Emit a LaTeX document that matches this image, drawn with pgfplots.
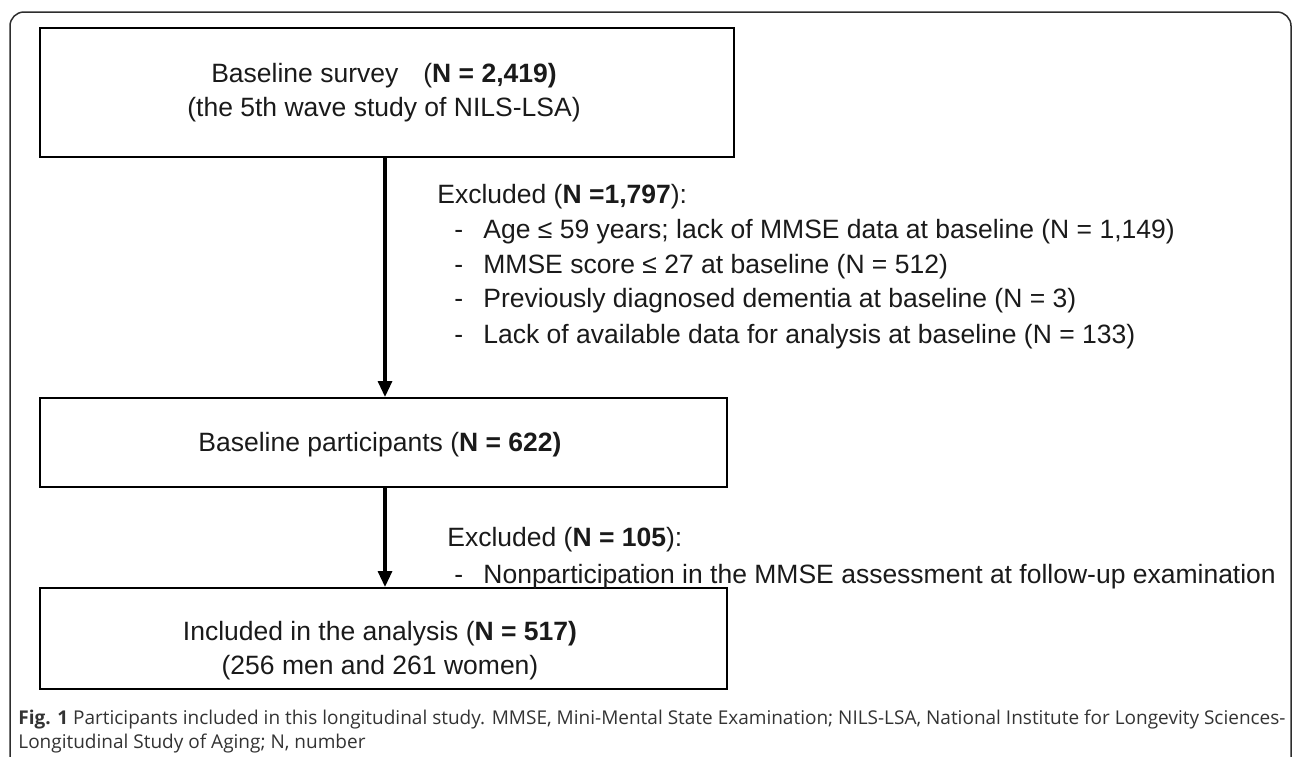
\documentclass[border=0pt]{standalone}
\usepackage{pgfplots}
\pgfplotsset{compat=1.18}
\usepackage{fontspec}
\setmainfont{Liberation Sans}
\newfontfamily\capfont{Open Sans}
\usetikzlibrary{arrows.meta}
\definecolor{frame}{HTML}{2E2E2E}
\definecolor{txt}{HTML}{1A1A1A}
\definecolor{captxt}{HTML}{333333}
\begin{document}
\begin{tikzpicture}
\begin{axis}[scale only axis, width=646.5pt, height=378pt,
  xmin=0, xmax=1293, ymin=0, ymax=756, y dir=reverse, hide axis, clip=false]
% outer frame
\addplot[draw=frame, line width=0.75pt, rounded corners=7pt] coordinates {(10,800) (10,12) (1291,12) (1291,800)};
% boxes
\addplot[black, line width=1.25pt, line cap=rect] coordinates {(40,28) (734,28) (734,157) (40,157) (40,28)};
\addplot[black, line width=1.25pt, line cap=rect] coordinates {(40,398) (727,398) (727,487) (40,487) (40,398)};
\addplot[black, line width=1.25pt, line cap=rect] coordinates {(40,588) (727,588) (727,689) (40,689) (40,588)};
% arrows
\addplot[black, line width=1.6pt, -{Triangle[width=7pt,length=8pt]}] coordinates {(385,157) (385,397)};
\addplot[black, line width=1.6pt, -{Triangle[width=7pt,length=8pt]}] coordinates {(385,487) (385,587)};
% box texts
\begin{scope}[every node/.style={font=\fontsize{13.25}{16}\selectfont, text=txt, inner sep=0pt}]
\node[anchor=base] at (axis cs:384,82) {Baseline survey\hspace{12.5pt}(\textbf{N = 2,419)}};
\node[anchor=base] at (axis cs:384,116) {(the 5th wave study of NILS-LSA)};
\node[anchor=base] at (axis cs:380,451) {Baseline participants (\textbf{N = 622)}};
\node[anchor=base] at (axis cs:380,640) {Included in the analysis (\textbf{N = 517)}};
\node[anchor=base] at (axis cs:380,674) {(256 men and 261 women)};
% excluded 1
\node[anchor=base west] at (axis cs:437,203) {Excluded (\textbf{N =1,797}):};
\node[anchor=base west] at (axis cs:454,238) {-};
\node[anchor=base west] at (axis cs:483,238) {Age ≤ 59 years; lack of MMSE data at baseline (N = 1,149)};
\node[anchor=base west] at (axis cs:454,273) {-};
\node[anchor=base west] at (axis cs:483,273) {MMSE score ≤ 27 at baseline (N = 512)};
\node[anchor=base west] at (axis cs:454,307) {-};
\node[anchor=base west] at (axis cs:483,307) {Previously diagnosed dementia at baseline (N = 3)};
\node[anchor=base west] at (axis cs:454,343) {-};
\node[anchor=base west] at (axis cs:483,343) {Lack of available data for analysis at baseline (N = 133)};
% excluded 2
\node[anchor=base west] at (axis cs:447,546) {Excluded (\textbf{N = 105}):};
\node[anchor=base west] at (axis cs:454,583) {-};
\node[anchor=base west] at (axis cs:483,583) {Nonparticipation in the MMSE assessment at follow-up examination};
\end{scope}
% caption
\node[anchor=base west, inner sep=0pt, text=captxt, font=\capfont\fontsize{9.5}{12}\selectfont] at (axis cs:18,724) {\textbf{Fig. 1} Participants included in this longitudinal study. MMSE, Mini-Mental State Examination; NILS-LSA, National Institute for Longevity Sciences-};
\node[anchor=base west, inner sep=0pt, text=captxt, font=\capfont\fontsize{9.5}{12}\selectfont] at (axis cs:18,748) {Longitudinal Study of Aging; N, number};
\end{axis}
\pgfresetboundingbox
\path (current axis.south west) rectangle (current axis.north east);
\end{tikzpicture}
\end{document}
